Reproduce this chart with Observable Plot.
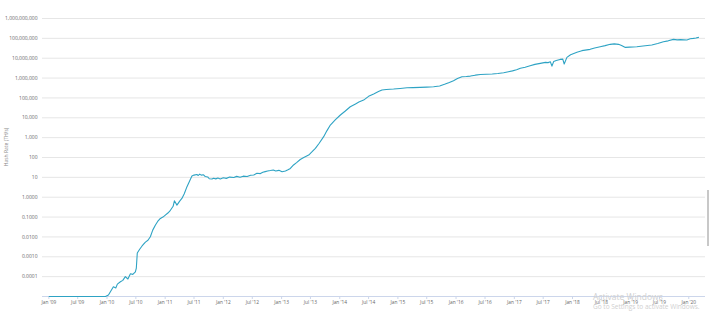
<!DOCTYPE html>
<html><head><meta charset="utf-8">
<script src="https://cdn.jsdelivr.net/npm/d3@7"></script>
<script src="https://cdn.jsdelivr.net/npm/@observablehq/plot@0.6"></script>
<style>
html,body{margin:0;padding:0;background:#fff;overflow:hidden}
#wrap{position:relative;width:710px;height:316px;font-family:"Open Sans",sans-serif}
#wrap svg{position:absolute;left:0;top:0}
#ytitle{position:absolute;left:-14px;top:144px;width:40px;text-align:center;font-size:5px;color:#888;transform:rotate(-90deg);white-space:nowrap}
#wm1{position:absolute;left:593px;top:291px;font-size:8.5px;color:#d0d0d0;white-space:nowrap}
#wm2{position:absolute;left:593px;top:302px;font-size:6.5px;color:#d0d0d0;white-space:nowrap}
#bar{position:absolute;left:707px;top:190px;width:2px;height:56px;background:#c8c8c8}
</style></head>
<body><div id="wrap"><div id="ytitle">Hash Rate (TH/s)</div></div>
<script>
const dates = [
"2009-01-03","2009-12-22","2010-01-10","2010-02-10","2010-02-25","2010-03-07","2010-03-26","2010-04-10","2010-04-26","2010-05-12",
"2010-05-28","2010-06-12","2010-06-28","2010-07-04","2010-07-10","2010-07-25","2010-08-09","2010-08-30","2010-09-15","2010-09-30","2010-10-15","2010-11-01",
"2010-11-15","2010-12-02","2010-12-18","2011-01-02","2011-01-18","2011-02-03","2011-02-20","2011-02-28","2011-03-16","2011-04-01","2011-04-16","2011-05-01","2011-05-18","2011-06-05","2011-06-18",
"2011-07-01","2011-07-19","2011-07-28","2011-08-06","2011-08-15","2011-08-30","2011-09-10","2011-09-25","2011-10-05","2011-10-22","2011-11-01","2011-11-15","2011-11-28","2011-12-13",
"2012-01-01","2012-01-20","2012-02-10","2012-03-07","2012-03-25","2012-04-15","2012-05-05","2012-05-30","2012-06-20","2012-07-10","2012-07-30","2012-08-21",
"2012-09-05","2012-09-20","2012-10-05","2012-10-23","2012-11-10","2012-11-25","2012-12-15","2013-01-04","2013-01-25","2013-02-10","2013-02-25","2013-03-17",
"2013-04-05","2013-04-28","2013-05-20","2013-06-20","2013-07-10","2013-08-01","2013-08-25","2013-09-22","2013-10-12","2013-11-03","2013-12-05",
"2014-01-05","2014-02-05","2014-03-08","2014-04-10","2014-05-01","2014-05-31","2014-07-01","2014-08-02","2014-09-01","2014-09-23","2014-10-20","2014-12-05",
"2015-01-15","2015-02-27","2015-04-05","2015-05-21","2015-07-01","2015-08-13","2015-09-20","2015-10-25","2015-11-20","2015-12-16","2016-01-10",
"2016-02-07","2016-03-05","2016-03-31","2016-05-01","2016-06-02","2016-07-10","2016-08-15","2016-09-20","2016-10-26","2016-11-25","2016-12-20",
"2017-01-15","2017-02-08","2017-03-10","2017-04-10","2017-05-10","2017-06-13","2017-07-15","2017-08-01","2017-08-15","2017-08-25","2017-09-05","2017-09-21","2017-10-15",
"2017-11-01","2017-11-10","2017-11-27","2017-12-20","2018-01-29","2018-03-01","2018-04-22","2018-05-20","2018-06-24","2018-07-25","2018-08-26","2018-09-20","2018-10-17","2018-11-05","2018-11-29",
"2018-12-25","2019-02-09","2019-03-20","2019-05-14","2019-06-20","2019-07-26","2019-08-25","2019-09-27","2019-10-20","2019-11-10","2019-12-20","2020-01-10","2020-01-30","2020-02-15","2020-03-02"
];
const hashRate = [
1e-5,1e-5,1.2e-5,3.1e-5,2.7e-5,4.2e-5,5.5e-5,6.5e-5,1.0e-4,7.6e-5,
1.4e-4,1.3e-4,1.75e-4,2.7e-4,1.55e-3,2.4e-3,3.5e-3,5.5e-3,6.8e-3,0.0102,0.022,0.04,
0.06,0.085,0.1,0.126,0.16,0.22,0.35,0.66,0.40,0.62,0.87,1.5,3.4,7,11.7,
13,14,12.5,14.5,13,13.5,11,10.5,8.5,8.2,9,8.4,9.2,8.3,
9.5,8.9,10.3,9.8,11.2,10.2,11.5,11,12.8,13.2,16,15.5,
18,19.5,21,22,23.5,21,22.5,19,21,24,28,42,
55,79,100,133,190,290,520,1120,2200,4300,8000,
13800,22000,36000,50000,62000,78000,120000,158000,210000,250000,265000,280000,
300000,325000,330000,340000,350000,365000,400000,500000,600000,740000,950000,
1.17e6,1.2e6,1.26e6,1.4e6,1.5e6,1.55e6,1.6e6,1.7e6,1.86e6,2.1e6,2.3e6,
2.6e6,3.1e6,3.5e6,4.2e6,4.9e6,5.5e6,6.2e6,6.0e6,6.6e6,4.0e6,6.8e6,7.6e6,8.7e6,
9.0e6,5.1e6,1.1e7,1.5e7,2.0e7,2.4e7,2.8e7,3.3e7,3.8e7,4.3e7,5.0e7,5.3e7,5.0e7,4.4e7,3.5e7,
3.6e7,3.8e7,4.1e7,4.6e7,5.5e7,6.8e7,7.5e7,8.9e7,8.4e7,8.6e7,8.3e7,9.5e7,1.0e8,1.05e8,1.12e8
];
const yTicks = [1e-4,1e-3,1e-2,1e-1,1,10,100,1e3,1e4,1e5,1e6,1e7,1e8,1e9];
const xTicks = d3.utcMonth.every(6).range(new Date(Date.UTC(2009,0,1)), new Date(Date.UTC(2020,0,2)));
const monthNames = ["Jan","Jul"];

const data = dates.map((d,i) => ({date: new Date(d + "T00:00:00Z"), value: hashRate[i]}));
const yFmt = v => v >= 10 ? d3.format(",")(v) : v.toFixed(4);
const xFmt = d => monthNames[d.getUTCMonth() === 0 ? 0 : 1] + " '" + String(d.getUTCFullYear()).slice(2);

const chart = Plot.plot({
  width: 710, height: 316,
  marginTop: 18, marginBottom: 20, marginLeft: 42, marginRight: 5,
  style: {fontFamily: "'Open Sans', sans-serif", fontSize: "5px", color: "#666", background: "transparent"},
  x: {type: "utc", domain: [new Date(Date.UTC(2008,10,22)), new Date(Date.UTC(2020,3,15))], label: null},
  y: {type: "log", domain: [1e-5, 1e9], label: null},
  marks: [
    Plot.gridY(yTicks, {stroke: "#e6e6e6", strokeOpacity: 1, strokeWidth: 1}),
    Plot.axisY(yTicks, {tickFormat: yFmt, tickSize: 0, tickPadding: 5, fontSize: 5, fill: "#666"}),
    Plot.ruleY([1e-5], {stroke: "#ccd6eb", strokeWidth: 1}),
    Plot.axisX(xTicks, {tickFormat: xFmt, tickSize: 3, tickPadding: 1.5, stroke: "#ccd6eb", fontSize: 4.8, fill: "#666"}),
    Plot.line(data, {x: "date", y: "value", stroke: "#2ea3c4", strokeWidth: 1.1})
  ]
});
const wrap = document.getElementById("wrap");
wrap.insertBefore(chart, wrap.firstChild);
for (const [id, txt] of [["wm1","Activate Windows"],["wm2","Go to Settings to activate Windows."],["bar",""]]) {
  const el = document.createElement("div"); el.id = id; el.textContent = txt; wrap.appendChild(el);
}
</script>
</body></html>
